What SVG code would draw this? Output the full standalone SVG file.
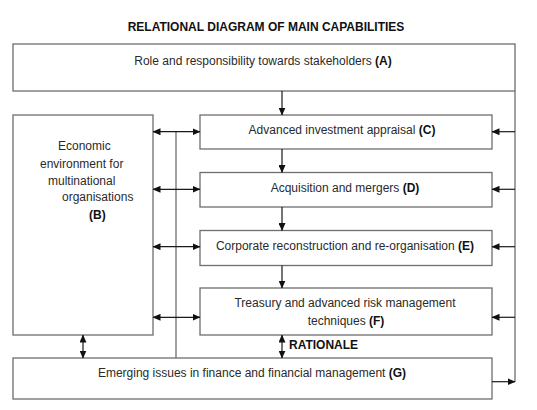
<svg xmlns="http://www.w3.org/2000/svg" width="537" height="410" viewBox="0 0 537 410">
<style>
.box{fill:#fff;stroke:#6e6e6e;stroke-width:1.3}
.t{font-family:"Liberation Sans",Arial,sans-serif;font-size:12px;fill:#2a2a2a}
.b{font-weight:bold;fill:#111}
.c{fill:none;stroke:#1a1a1a;stroke-width:1.2}
.g{fill:none;stroke:#6e6e6e;stroke-width:1.3}
</style>
<defs>
<marker id="ah" markerUnits="userSpaceOnUse" markerWidth="8" markerHeight="7" refX="7.5" refY="3.5" orient="auto-start-reverse" viewBox="0 0 8 7">
<path d="M0,0 L8,3.5 L0,7 z" fill="#111"/>
</marker>
</defs>
<rect width="537" height="410" fill="#fff"/>
<text class="t b" x="266" y="31" text-anchor="middle" font-size="12.2">RELATIONAL DIAGRAM OF MAIN CAPABILITIES</text>

<g id="nodeA">
<rect class="box" x="13" y="44" width="502" height="47"/>
<text class="t" x="263" y="65" text-anchor="middle">Role and responsibility towards stakeholders <tspan class="b">(A)</tspan></text>
</g>
<g id="nodeB">
<rect class="box" x="13" y="115" width="140" height="220"/>
<text class="t" x="58" y="150">Economic</text>
<text class="t" x="40" y="167.5">environment for</text>
<text class="t" x="48" y="184.5">multinational</text>
<text class="t" x="62" y="201">organisations</text>
<text class="t b" x="89" y="218.5">(B)</text>
</g>
<g id="nodeC">
<rect class="box" x="200" y="115" width="292" height="34"/>
<text class="t" x="342" y="133.5" text-anchor="middle">Advanced investment appraisal <tspan class="b">(C)</tspan></text>
</g>
<g id="nodeD">
<rect class="box" x="200" y="172.5" width="292" height="34.5"/>
<text class="t" x="345" y="191.5" text-anchor="middle">Acquisition and mergers <tspan class="b">(D)</tspan></text>
</g>
<g id="nodeE">
<rect class="box" x="200" y="230.5" width="292" height="35"/>
<text class="t" x="345" y="250" text-anchor="middle">Corporate reconstruction and re-organisation <tspan class="b">(E)</tspan></text>
</g>
<g id="nodeF">
<rect class="box" x="200" y="288" width="292" height="47"/>
<text class="t" x="345" y="306.5" text-anchor="middle">Treasury and advanced risk management</text>
<text class="t" x="346" y="324.5" text-anchor="middle">techniques <tspan class="b">(F)</tspan></text>
</g>
<g id="nodeG">
<rect class="box" x="13" y="358" width="479" height="41"/>
<text class="t" x="252" y="377" text-anchor="middle">Emerging issues in finance and financial management <tspan class="b">(G)</tspan></text>
</g>

<g id="connectors">
<line class="g" x1="515" y1="91" x2="515" y2="382"/>
<path class="c" d="M282,91 V115" marker-end="url(#ah)"/>
<path class="c" d="M282,149 V172.5" marker-end="url(#ah)"/>
<path class="c" d="M282,207 V230.5" marker-end="url(#ah)"/>
<path class="c" d="M282,265.5 V288" marker-end="url(#ah)"/>
<line class="g" x1="176" y1="131.7" x2="176" y2="358"/>
<path class="c" d="M153,131.7 H200" marker-start="url(#ah)" marker-end="url(#ah)"/>
<path class="c" d="M153,189.3 H200" marker-start="url(#ah)" marker-end="url(#ah)"/>
<path class="c" d="M153,246.7 H200" marker-start="url(#ah)" marker-end="url(#ah)"/>
<path class="c" d="M153,317.3 H200" marker-start="url(#ah)" marker-end="url(#ah)"/>
<path class="c" d="M515,131.7 H492" marker-end="url(#ah)"/>
<path class="c" d="M515,189.3 H492" marker-end="url(#ah)"/>
<path class="c" d="M515,246.7 H492" marker-end="url(#ah)"/>
<path class="c" d="M515,317.3 H492" marker-end="url(#ah)"/>
<path class="c" d="M83,335 V358" marker-start="url(#ah)" marker-end="url(#ah)"/>
<path class="c" d="M282,335 V358" marker-start="url(#ah)" marker-end="url(#ah)"/>
<path class="c" d="M492,381.7 H515" marker-end="url(#ah)"/>
<text class="t b" x="289" y="349" font-size="11.8">RATIONALE</text>
</g>
</svg>
